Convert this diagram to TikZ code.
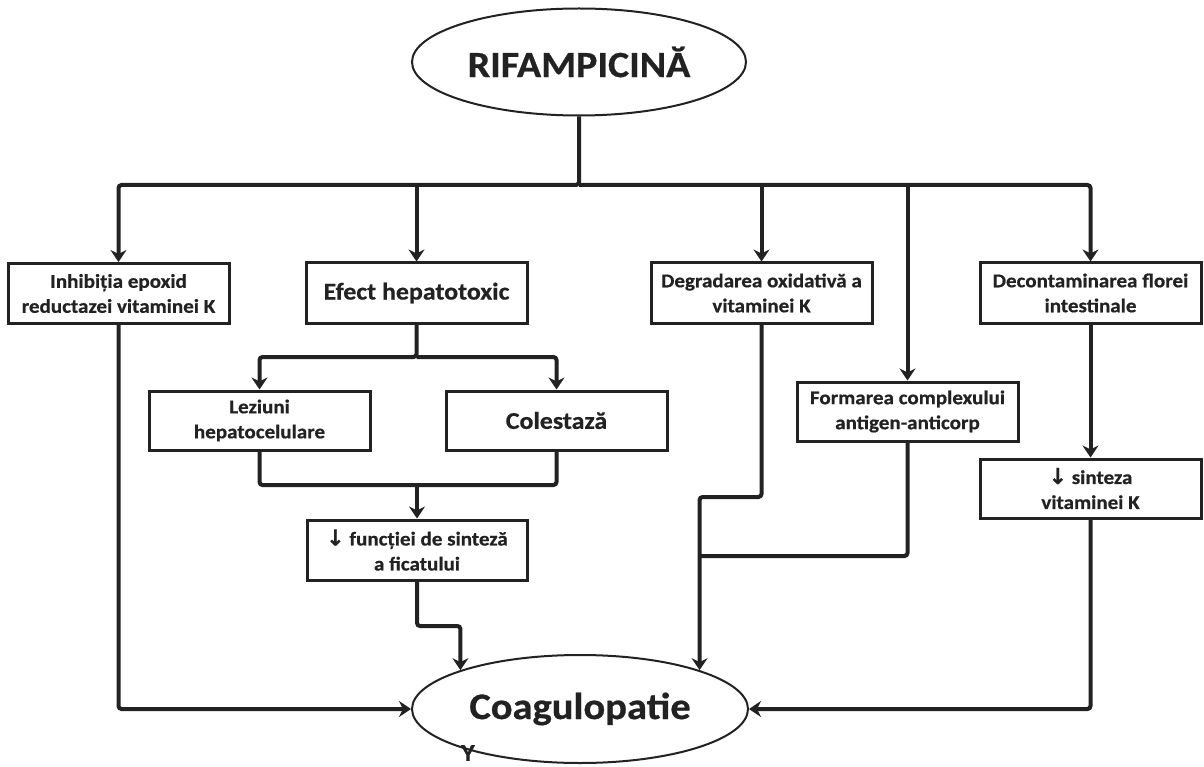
\documentclass[tikz,border=0pt]{standalone}
\usepackage{fontspec}
\setmainfont{Carlito}[BoldFeatures={FakeStretch=1.08, FakeBold=0.6}]
\newfontfamily\symf{DejaVu Sans}[FakeBold=0.6]
\usetikzlibrary{shapes.geometric,arrows.meta}
\definecolor{ink}{HTML}{222222}
\tikzset{
  box/.style={draw=ink, line width=3pt, fill=white, align=center, text=ink,
    font=\bfseries\fontsize{19.5}{25}\selectfont, minimum width=221pt, minimum height=60pt, inner sep=2pt},
  bigbox/.style={box, font=\bfseries\fontsize{24}{28}\selectfont},
  oval/.style={ellipse, draw=ink, line width=2pt, fill=white, text=ink, inner sep=0pt},
  con/.style={draw=ink, line width=4pt},
  arr/.style={con, -{Stealth[length=12pt,width=16pt,inset=4pt]}}
}
\begin{document}
\begin{tikzpicture}[x=1pt,y=-1pt]
\fill[white] (0,0) rectangle (1204,767);
\useasboundingbox (0,0) rectangle (1204,767);

% nodes
\node[oval, minimum width=334pt, minimum height=107pt, font=\bfseries\fontsize{37}{37}\selectfont] (top) at (579,62) {RIFAMPICINĂ};
\node[oval, minimum width=336pt, minimum height=108pt, font=\bfseries\fontsize{37.5}{37.5}\selectfont] (coag) at (580,709) {Coagulopatie};

\node[box] (b1) at (118.5,293.5) {Inhibiția epoxid\\reductazei vitaminei K};
\node[bigbox] (b2) at (416.5,293) {Efect hepatotoxic};
\node[box] (b3) at (761.5,293) {Degradarea oxidativă a\\vitaminei K};
\node[box] (b4) at (1090.5,293) {Decontaminarea florei\\intestinale};
\node[box, minimum height=59pt] (lez) at (259.5,420.5) {Leziuni\\hepatocelulare};
\node[bigbox, minimum height=59pt] (col) at (556.5,420.5) {Colestază};
\node[box, minimum width=220pt] (fun) at (417,550) {{\symf\fontsize{22}{22}\selectfont ↓} funcției de sinteză\\a ficatului};
\node[box, minimum height=59pt] (form) at (907.5,411.5) {Formarea complexului\\antigen-anticorp};
\node[box, minimum height=59pt] (sin) at (1090.5,488.5) {{\symf\fontsize{22}{22}\selectfont ↓} sinteza\\vitaminei K};

% level coordinates
\coordinate (bus) at (579,185);
\coordinate (hy) at (0,357);
\coordinate (my) at (0,485);
\coordinate (fy) at (0,626);
\coordinate (ry) at (0,497);
\coordinate (ay) at (0,556);

% top distribution
\draw[arr, rounded corners=3pt] (top.south) -- (bus) -| (b1.north);
\draw[arr, rounded corners=3pt] (bus) -| (b4.north);
\draw[arr] (b2.north |- bus) -- (b2.north);
\draw[arr] (b3.north |- bus) -- (b3.north);
\draw[arr] (form.north |- bus) -- (form.north);

% hepatotoxic branch
\draw[arr, rounded corners=3pt] (b2.south) -- (b2.south |- hy) -| (lez.north);
\draw[arr, rounded corners=3pt] (b2.south |- hy) -| (col.north);
\draw[con, rounded corners=3pt] (lez.south) |- (col.south |- my) -- (col.south);
\draw[arr] (fun.north |- my) -- (fun.north);
\draw[arr, rounded corners=3pt] (fun.south) |- (coag.162.3 |- fy) -- (coag.162.3);

% left and right inputs
\draw[arr, rounded corners=3pt] (b1.south) |- (coag.west);
\draw[arr] (b4.south) -- (sin.north);
\draw[arr, rounded corners=3pt] (sin.south) |- (coag.east);

% middle inputs
\draw[arr, rounded corners=3pt] (b3.south) |- (coag.18.3 |- ry) -- (coag.18.3);
\draw[con, rounded corners=3pt] (form.south) |- (coag.18.3 |- ay);

% stray mark
\node[text=ink, font=\bfseries\fontsize{24}{24}\selectfont, inner sep=0pt] (ymark) at (468,753) {Y};
\end{tikzpicture}
\end{document}
